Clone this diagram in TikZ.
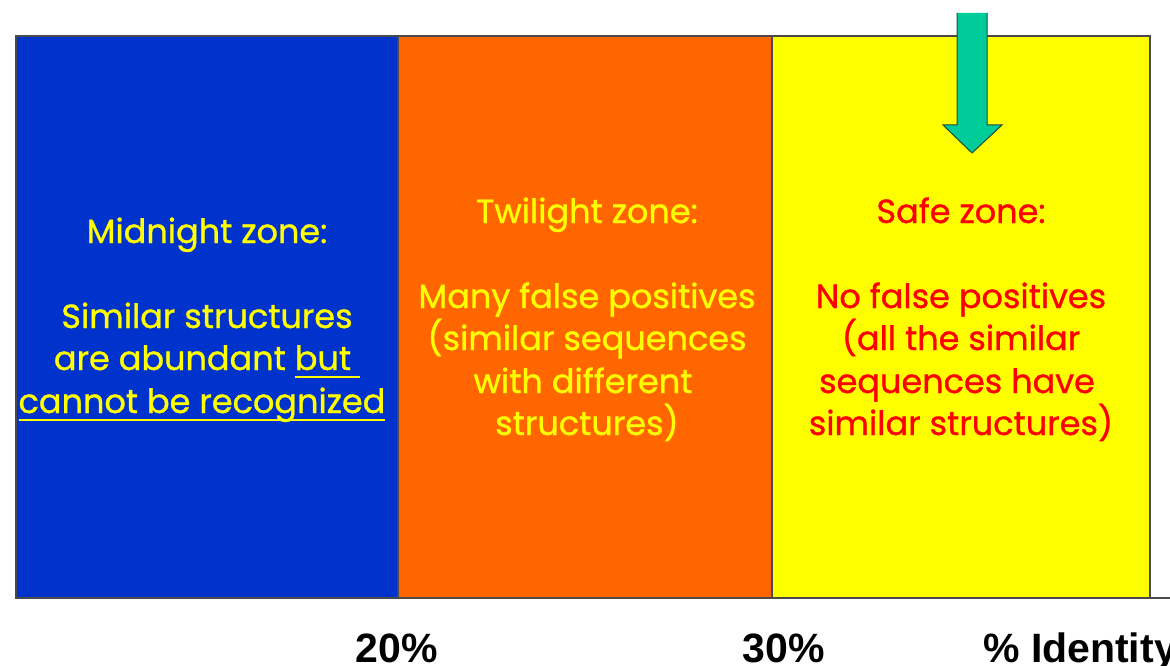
\documentclass[tikz,border=0pt]{standalone}
\usepackage{fontspec}
\setmainfont{Poppins}
\newfontfamily\zonefont{Poppins}[FakeBold=0.9]
\newfontfamily\labelfont{Liberation Sans}
\definecolor{zoneblue}{HTML}{0033CC}
\definecolor{zoneorange}{HTML}{FF6600}
\definecolor{zoneyellow}{HTML}{FFFF00}
\definecolor{arrowgreen}{HTML}{00CC99}
\definecolor{arrowedge}{HTML}{1F4A3E}
\definecolor{edgegray}{HTML}{4A4A4A}
\definecolor{textyellow}{HTML}{FFFF00}
\definecolor{textred}{HTML}{FF0000}
% underline drawn as a rule below the text, with a chosen depth and thickness
\newsavebox\zulbox
\newcommand\zul[1]{\sbox\zulbox{#1}\rlap{\rule[-8pt]{\wd\zulbox}{2.4pt}}\usebox\zulbox}
\tikzset{
  zone/.style={draw=edgegray, line width=1.2pt, minimum height=562pt, inner sep=0pt, outer sep=0pt},
  zonetext/.style={anchor=base, inner sep=0pt, font=\zonefont\fontsize{33.5}{42}\selectfont},
  pct/.style={anchor=base, inner sep=0pt, font=\labelfont\bfseries\fontsize{41}{48}\selectfont}
}
\begin{document}
\begin{tikzpicture}[x=1pt, y=-1pt]
\useasboundingbox (0,0) rectangle (1170,666);
\fill[white] (0,0) rectangle (1170,666);

% the three zones
\node[zone, fill=zoneblue, minimum width=382pt] (midnight) at (207,317) {};
\node[zone, fill=zoneorange, minimum width=374pt] (twilight) at (585,317) {};
\node[zone, fill=zoneyellow, minimum width=378pt] (safe) at (961,317) {};

% identity axis along the bottom
\coordinate (axisend) at (1170,598);
\draw[edgegray, line width=1.5pt] (midnight.south west) -- (axisend);

% block arrow pointing into the safe zone
\fill[arrowgreen] (957,13) -- (987,13) -- (987,125) -- (1002,125) -- (972,153) -- (943,125) -- (957,125) -- cycle;
\draw[arrowedge, line width=1pt, line join=miter] (957,13) -- (957,125) -- (943,125) -- (972,153) -- (1002,125) -- (987,125) -- (987,13);

% midnight zone text
\begin{scope}[every node/.append style={zonetext, text=textyellow}]
\node (m1) at (207,243) {Midnight zone:};
\node (m2) at (207,328) {Similar structures};
\node (m3) at (207,370) {are abundant \zul{but\ }};
\node (m4) at (202,413) {\zul{cannot be recognized}};
\end{scope}

% twilight zone text
\begin{scope}[every node/.append style={zonetext, text=textyellow}]
\node (t1) at (587,223) {Twilight zone:};
\node (t2) at (587,308) {Many false positives};
\node (t3) at (587,350) {(similar sequences};
\node (t4) at (583,393) {with different};
\node (t5) at (587,435) {structures)};
\end{scope}

% safe zone text
\begin{scope}[every node/.append style={zonetext, text=textred}]
\node (s1) at (961,223) {Safe zone:};
\node (s2) at (961,308) {No false positives};
\node (s3) at (961,350) {(all the similar};
\node (s4) at (957,393) {sequences have};
\node (s5) at (961,435) {similar structures)};
\end{scope}

% percentage labels under the axis
\node[pct] (p20) at (397,662) {20\%};
\node[pct] (p30) at (784,662) {30\%};
\node[pct, anchor=base west] (pid) at (983,662) {\% Identity};
\end{tikzpicture}
\end{document}
